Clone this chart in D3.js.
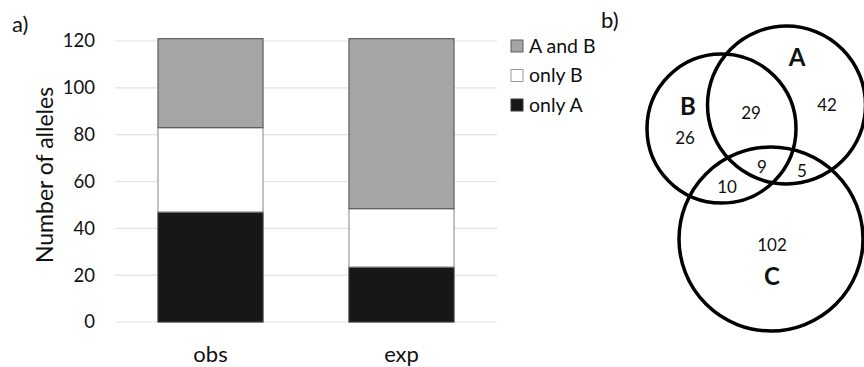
<!DOCTYPE html>
<html>
<head>
<meta charset="utf-8">
<script src="https://cdn.jsdelivr.net/npm/d3@7"></script>
<style>
  html, body { margin: 0; padding: 0; background: #fff; }
  svg { display: block; font-family: Lato, "Open Sans", sans-serif; }
</style>
</head>
<body>
<svg id="chart" width="864" height="367"></svg>
<script>
// Stacked bar data (panel a)
const categories = ["obs", "exp"];
const seriesNames = ["only A", "only B", "A and B"];
const onlyA = [47, 23.5];
const onlyB = [36, 24.9];
const aAndB = [38, 72.6];
const yTicks = [0, 20, 40, 60, 80, 100, 120];

// Venn region counts (panel b)
const vennSets = ["A", "B", "C"];
const vennRegionLabels = ["42", "29", "26", "9", "5", "10", "102"];

const svg = d3.select("#chart");

// ---------- panel a: stacked bars ----------
const plot = { left: 115, right: 497, top: 41, bottom: 322 };
const x = d3.scaleBand().domain(categories).range([plot.left, plot.right]).paddingInner(0.45).paddingOuter(0.225);
const y = d3.scaleLinear().domain([0, 120]).range([plot.bottom, plot.top]);

const fills = { "only A": "#171717", "only B": "#ffffff", "A and B": "#a5a5a5" };
const strokes = { "only A": "#3a3a3a", "only B": "#9a9a9a", "A and B": "#5e5e5e" };

const rows = categories.map((c, i) => ({ cat: c, "only A": onlyA[i], "only B": onlyB[i], "A and B": aAndB[i] }));
const stacked = d3.stack().keys(seriesNames)(rows);

// gridlines
svg.append("g")
  .selectAll("line")
  .data(yTicks)
  .join("line")
  .attr("x1", plot.left).attr("x2", plot.right)
  .attr("y1", d => y(d)).attr("y2", d => y(d))
  .attr("stroke", "#e3e3e3").attr("stroke-width", 1.2);

// y axis labels
const yAxis = d3.axisLeft(y).tickValues(yTicks).tickSize(0).tickPadding(0);
svg.append("g")
  .attr("transform", "translate(95,0)")
  .call(yAxis)
  .call(g => g.select(".domain").remove())
  .call(g => g.selectAll("text")
    .attr("font-family", "Lato, 'Open Sans', sans-serif")
    .attr("font-size", 18.5).attr("fill", "#111"));

// bars
svg.append("g")
  .selectAll("g")
  .data(stacked)
  .join("g")
  .attr("fill", d => fills[d.key])
  .attr("stroke", d => strokes[d.key])
  .attr("stroke-width", 1.2)
  .selectAll("rect")
  .data(d => d)
  .join("rect")
  .attr("x", d => x(d.data.cat))
  .attr("width", x.bandwidth())
  .attr("y", d => y(d[1]))
  .attr("height", d => y(d[0]) - y(d[1]));

// x axis labels
const xAxis = d3.axisBottom(x).tickSize(0).tickPadding(0);
svg.append("g")
  .attr("transform", "translate(0,346)")
  .call(xAxis)
  .call(g => g.select(".domain").remove())
  .call(g => g.selectAll("text")
    .attr("font-family", "Lato, 'Open Sans', sans-serif")
    .attr("font-size", 22).attr("fill", "#111"));

// y axis title
svg.append("text")
  .attr("transform", "translate(53,175) rotate(-90)")
  .attr("text-anchor", "middle")
  .attr("font-size", 23)
  .attr("fill", "#111")
  .text("Number of alleles");

// panel letters
svg.append("text").attr("x", 12).attr("y", 32).attr("font-size", 22).attr("fill", "#111").text("a)");
svg.append("text").attr("x", 601).attr("y", 28).attr("font-size", 22).attr("fill", "#111").text("b)");

// legend (top to bottom: A and B, only B, only A)
const legendOrder = seriesNames.slice().reverse();
const legend = svg.append("g")
  .selectAll("g")
  .data(legendOrder)
  .join("g")
  .attr("transform", (d, i) => `translate(511,${46 + i * 29.5})`);
legend.append("rect")
  .attr("x", 0).attr("y", -6).attr("width", 12).attr("height", 12)
  .attr("fill", d => fills[d]).attr("stroke", d => strokes[d]).attr("stroke-width", 1);
legend.append("text")
  .attr("x", 18).attr("dy", "0.35em")
  .attr("font-size", 19.5).attr("fill", "#111")
  .text(d => d);

// ---------- panel b: Venn diagram ----------
const circles = [
  { set: "A", cx: 786.5, cy: 105, r: 79, lx: 797, ly: 57 },
  { set: "B", cx: 721.5, cy: 128.5, r: 74.5, lx: 688, ly: 106 },
  { set: "C", cx: 771, cy: 239, r: 92, lx: 772, ly: 276 }
];
const regionPos = [
  [827, 105], [751, 113], [685, 138], [762, 167], [802, 171], [727, 187], [772, 245]
];

svg.append("g")
  .selectAll("circle")
  .data(circles)
  .join("circle")
  .attr("cx", d => d.cx).attr("cy", d => d.cy).attr("r", d => d.r)
  .attr("fill", "none").attr("stroke", "#000").attr("stroke-width", 3.5);

svg.append("g")
  .selectAll("text")
  .data(circles)
  .join("text")
  .attr("x", d => d.lx).attr("y", d => d.ly)
  .attr("text-anchor", "middle").attr("dy", "0.36em")
  .attr("font-size", 24).attr("font-weight", "bold").attr("fill", "#111")
  .text((d, i) => vennSets[i]);

svg.append("g")
  .selectAll("text")
  .data(vennRegionLabels)
  .join("text")
  .attr("x", (d, i) => regionPos[i][0]).attr("y", (d, i) => regionPos[i][1])
  .attr("text-anchor", "middle").attr("dy", "0.36em")
  .attr("font-size", 17).attr("fill", "#111")
  .text(d => d);
</script>
</body>
</html>
